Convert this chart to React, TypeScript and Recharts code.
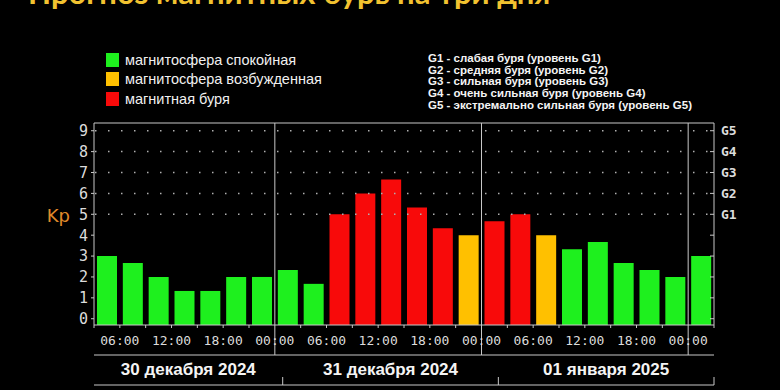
import { BarChart, Bar, XAxis, YAxis, ReferenceLine, Legend, Cell } from "recharts";

// 3-hour slots, 30 Dec 03:00 .. 02 Jan 03:00
const slotStarts = [
  "03:00", "06:00", "09:00", "12:00", "15:00", "18:00", "21:00",
  "00:00", "03:00", "06:00", "09:00", "12:00", "15:00", "18:00", "21:00",
  "00:00", "03:00", "06:00", "09:00", "12:00", "15:00", "18:00", "21:00",
  "00:00",
];
const kpValues = [
  3, 2.67, 2, 1.33, 1.33, 2, 2,
  2.33, 1.67, 5, 6, 6.67, 5.33, 4.33, 4,
  4.67, 5, 4, 3.33, 3.67, 2.67, 2.33, 2,
  3,
];
const kpStatus = [
  "quiet", "quiet", "quiet", "quiet", "quiet", "quiet", "quiet",
  "quiet", "quiet", "storm", "storm", "storm", "storm", "storm", "active",
  "storm", "storm", "active", "quiet", "quiet", "quiet", "quiet", "quiet",
  "quiet",
];
const dayNames = ["30 декабря 2024", "31 декабря 2024", "01 января 2025"];
const daySlots = [7, 8, 8];
const timeLabels = ["06:00", "12:00", "18:00", "00:00"];
const kpTicks = [0, 1, 2, 3, 4, 5, 6, 7, 8, 9];
const stormLevels = ["G1", "G2", "G3", "G4", "G5"]; // Kp 5..9
const stormNotes = [
  "G1 - слабая буря (уровень G1)",
  "G2 - средняя буря (уровень G2)",
  "G3 - сильная буря (уровень G3)",
  "G4 - очень сильная буря (уровень G4)",
  "G5 - экстремально сильная буря (уровень G5)",
];
const statusKeys = ["quiet", "active", "storm"];
const statusNames = ["магнитосфера спокойная", "магнитосфера возбужденная", "магнитная буря"];

const COLORS: Record<string, string> = { quiet: "#1ef01e", active: "#ffc000", storm: "#f80a0a" };
const LINE = "#c8c8c8";
const AXIS_TEXT = "#dcdcdc";
const MONO = "'DejaVu Sans Mono', monospace";
const SANS = "'Liberation Sans', Arial, sans-serif";
const Y_MIN = -0.3;
const Y_MAX = 9.37;

const data = kpValues.map((kp, i) => ({
  pos: i + 0.5,
  kp,
  start: slotStarts[i],
  status: kpStatus[i],
}));

const boundaries = Array.from({ length: data.length + 1 }, (_, k) => k);
const dayEdges = daySlots.map((_, i) => daySlots.slice(0, i + 1).reduce((a, b) => a + b, 0));
const dayCenters = daySlots.map((n, i) => dayEdges[i] - n / 2);

function TimeTick({ x, y, payload }: any) {
  const k = payload.value;
  const label = k > 0 && k < slotStarts.length ? slotStarts[k] : "";
  const edge = dayEdges.includes(k);
  return (
    <g>
      <line x1={x} x2={x} y1={y} y2={y + (edge ? 30 : 3)} stroke={LINE} />
      {timeLabels.includes(label) && (
        <text x={x} y={y + 15} textAnchor="middle" dominantBaseline="central"
          fill={AXIS_TEXT} fontFamily={MONO} fontSize={13}>
          {label}
        </text>
      )}
    </g>
  );
}

function DayTick({ x, y, index }: any) {
  return (
    <text x={x} y={y + 14} textAnchor="middle" dominantBaseline="central"
      fill="#f4f4f4" fontFamily={SANS} fontWeight="bold" fontSize={17}>
      {dayNames[index]}
    </text>
  );
}

function EdgeTick({ x, y }: any) {
  return <line x1={x} x2={x} y1={y - 8} y2={y} stroke={LINE} />;
}

function StormTick({ x, y, payload }: any) {
  const g = stormLevels[payload.value - 5];
  return (
    <g>
      <line x1={x - 4} x2={x} y1={y} y2={y} stroke={LINE} />
      {g && (
        <text x={x + 7} y={y} dominantBaseline="central" fill={AXIS_TEXT}
          fontFamily={MONO} fontWeight="bold" fontSize={13}>
          {g}
        </text>
      )}
    </g>
  );
}

function KeyPanel() {
  return (
    <div style={{ position: "relative", width: 780, height: 120 }}>
      <div style={{ position: "absolute", left: 106, top: 50 }}>
        {statusKeys.map((key, i) => (
          <div key={key} style={{ display: "flex", alignItems: "center", height: 19.5 }}>
            <span style={{ width: 13, height: 14, background: COLORS[key], marginRight: 6 }} />
            <span style={{ color: "#f0f0f0", fontFamily: SANS, fontSize: 14.5 }}>{statusNames[i]}</span>
          </div>
        ))}
      </div>
      <div style={{ position: "absolute", left: 428, top: 53, color: "#f4f4f4",
        fontFamily: SANS, fontWeight: "bold", fontSize: 11.5, lineHeight: "11.7px" }}>
        {stormNotes.map((t) => (
          <div key={t}>{t}</div>
        ))}
      </div>
    </div>
  );
}

export default function App() {
  return (
    <div style={{ position: "absolute", left: 0, top: 0, width: 780, height: 390,
      background: "#000", overflow: "hidden" }}>
      <div style={{ position: "absolute", left: 28, top: -23, color: "#f2c230",
        fontFamily: "Lato, sans-serif", fontWeight: "bold", fontSize: 31, lineHeight: "30px",
        whiteSpace: "nowrap" }}>
        Прогноз магнитных бурь на три дня
      </div>
      <BarChart width={780} height={390} data={data}
        margin={{ top: 123, right: 0, bottom: 0, left: 0 }}>
        <XAxis xAxisId="t1" type="number" dataKey="pos" domain={[0, 24]} allowDataOverflow
          ticks={boundaries} interval={0} height={30} tickSize={0} tickMargin={0}
          axisLine={{ stroke: LINE }} tick={TimeTick} />
        <XAxis xAxisId="t2" type="number" domain={[0, 24]} allowDataOverflow
          ticks={dayCenters} interval={0} height={30} tickSize={0} tickMargin={0}
          axisLine={{ stroke: LINE }} tick={DayTick} />
        <XAxis xAxisId="t3" type="number" domain={[0, 24]} allowDataOverflow
          ticks={dayEdges} interval={0} height={5} tickSize={0} tickMargin={0}
          axisLine={{ stroke: LINE }} tick={EdgeTick} />
        <YAxis yAxisId="kp" type="number" domain={[Y_MIN, Y_MAX]} allowDataOverflow
          ticks={kpTicks} interval={0} width={94} tickSize={3} tickMargin={3}
          axisLine={{ stroke: LINE }} tickLine={{ stroke: LINE }}
          tick={{ fill: AXIS_TEXT, fontFamily: MONO, fontSize: 15 }}
          label={{ value: "Kp", position: "left", offset: -70, dy: -8, fill: "#e08a2a",
            fontSize: 18, fontFamily: "'DejaVu Sans', sans-serif" }} />
        <YAxis yAxisId="g" orientation="right" type="number" domain={[Y_MIN, Y_MAX]}
          allowDataOverflow ticks={kpTicks} interval={0} width={66} tickSize={0}
          tickMargin={0} axisLine={{ stroke: LINE }} tick={StormTick} />
        <Legend verticalAlign="middle" align="center" layout="horizontal"
          wrapperStyle={{ top: 0, left: 0, width: 780, height: 120 }} content={KeyPanel} />
        {stormLevels.map((g, i) => (
          <ReferenceLine key={g} xAxisId="t1" yAxisId="kp" y={5 + i} stroke="#b0b0b0"
            strokeWidth={1.5} strokeDasharray="1.5 11.5" strokeDashoffset={-1} />
        ))}
        <ReferenceLine xAxisId="t1" yAxisId="kp" y={Y_MAX} stroke={LINE} />
        {dayEdges.map((e) => (
          <ReferenceLine key={e} xAxisId="t1" yAxisId="kp" x={e} stroke={LINE} />
        ))}
        <Bar xAxisId="t1" yAxisId="kp" dataKey={(d: any) => [Y_MIN, d.kp]} barSize={20}
          isAnimationActive={false}>
          {data.map((d, i) => (
            <Cell key={i} fill={COLORS[d.status]} />
          ))}
        </Bar>
      </BarChart>
    </div>
  );
}
